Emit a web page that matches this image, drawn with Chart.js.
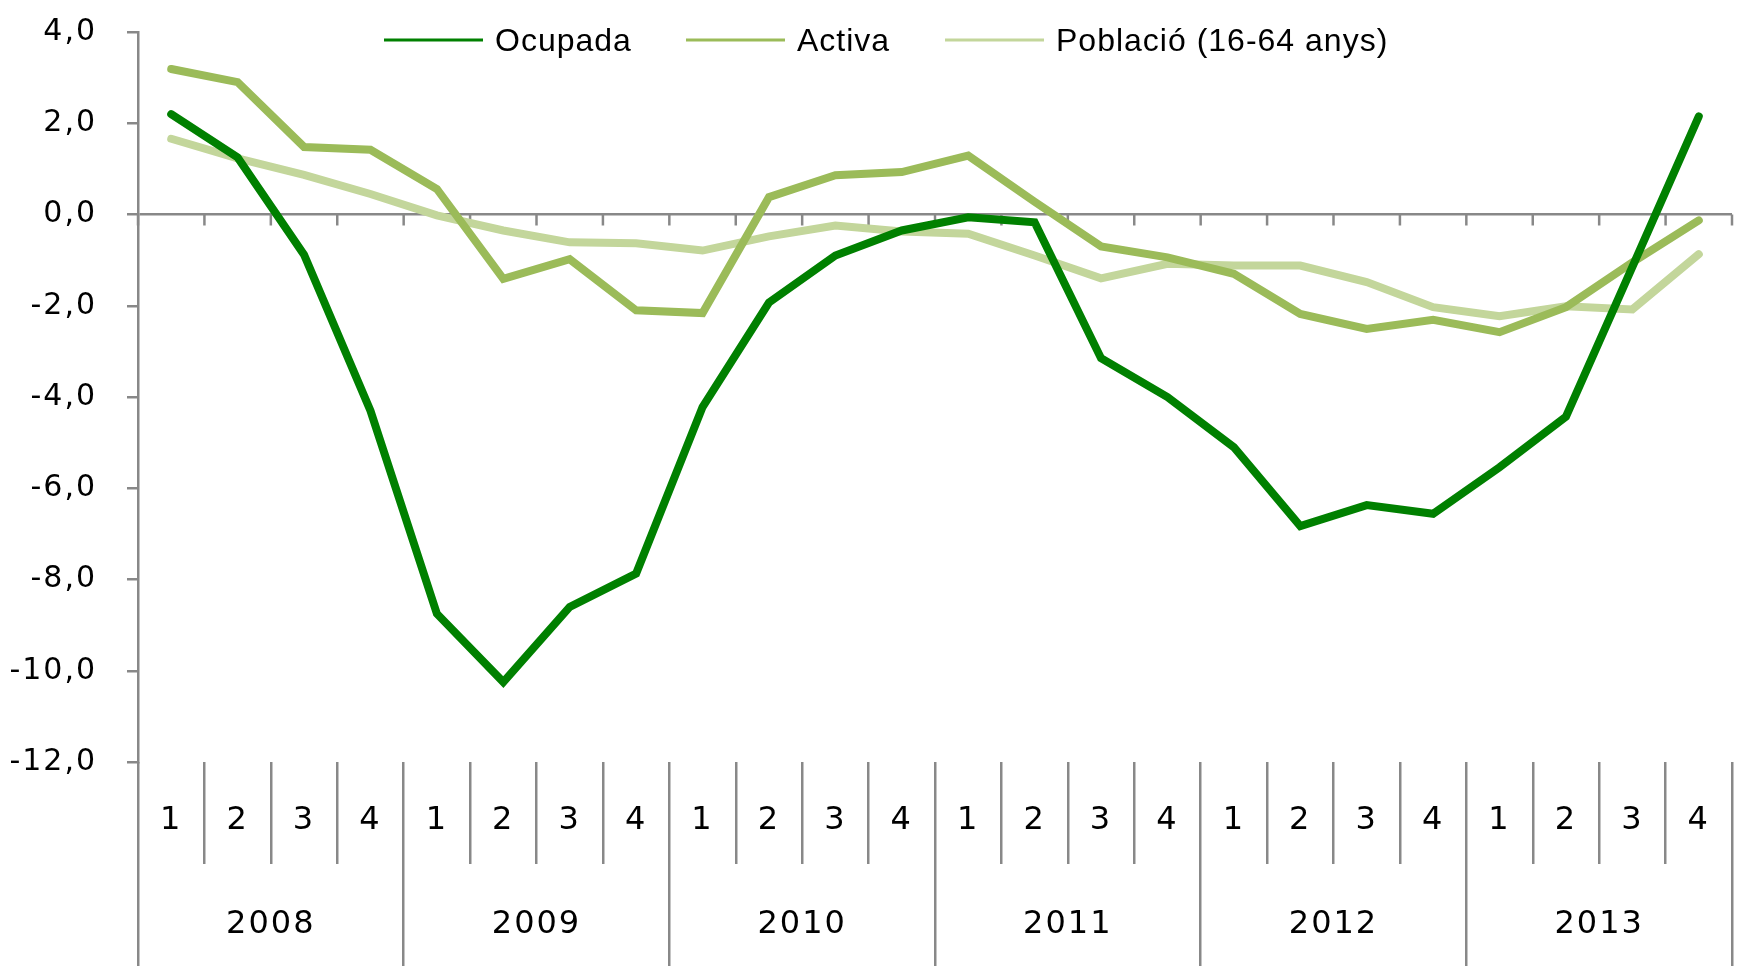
<!DOCTYPE html>
<html>
<head>
<meta charset="utf-8">
<script src="https://cdn.jsdelivr.net/npm/chart.js@4.4.1/dist/chart.umd.min.js"></script>
<style>
  html, body { margin: 0; padding: 0; background: #fff; }
</style>
</head>
<body>
<canvas id="myChart" width="1748" height="966"></canvas>
<script>
const myChart = document.querySelector("#myChart");

// categories
let quarters = ["1", "2", "3", "4", "1", "2", "3", "4", "1", "2", "3", "4",
  "1", "2", "3", "4", "1", "2", "3", "4", "1", "2", "3", "4"];
let years = ["2008", "2009", "2010", "2011", "2012", "2013"];

// series values (%)
let ocupada = [2.2, 1.25, -0.88, -4.3, -8.75, -10.25, -8.6, -7.87, -4.22, -1.93, -0.9, -0.35,
  -0.06, -0.17, -3.15, -4.0, -5.1, -6.83, -6.37, -6.56, -5.54, -4.43, -1.15, 2.15];
let activa = [3.19, 2.9, 1.48, 1.42, 0.56, -1.41, -0.98, -2.1, -2.16, 0.38, 0.86, 0.93,
  1.29, 0.28, -0.7, -0.94, -1.3, -2.18, -2.51, -2.31, -2.58, -2.03, -1.05, -0.13];
let poblacio = [1.66, 1.23, 0.87, 0.45, -0.02, -0.35, -0.61, -0.63, -0.79, -0.48, -0.24, -0.37,
  -0.42, -0.9, -1.4, -1.08, -1.12, -1.12, -1.48, -2.03, -2.23, -2.01, -2.08, -0.87];

// y axis
let yMin = -12;
let yMax = 4;
let yStep = 2;

const gray = "#888888";
const tickFont = { family: "DejaVu Sans", size: 30 };
const catFont = { family: "DejaVu Sans", size: 32 };

// small tick marks hanging under the zero line
const zeroTicks = {
  id: "zeroTicks",
  beforeDatasetsDraw(chart) {
    const { ctx, scales } = chart;
    const y0 = scales.y.getPixelForValue(0);
    ctx.save();
    ctx.strokeStyle = gray;
    ctx.lineWidth = 2.5;
    for (let i = 0; i <= quarters.length; i++) {
      const px = scales.x.getPixelForValue(i - 0.5);
      ctx.beginPath();
      ctx.moveTo(px, y0);
      ctx.lineTo(px, y0 + 11);
      ctx.stroke();
    }
    ctx.restore();
  },
};

// letter spacing for axis text, and the legend drawn inside the plot
const legendInside = {
  id: "legendInside",
  beforeDraw(chart) {
    chart.ctx.letterSpacing = "2px";
  },
  afterDraw(chart, args, opts) {
    const ctx = chart.ctx;
    ctx.save();
    ctx.letterSpacing = "1px";
    ctx.font = "32px 'Liberation Sans'";
    ctx.textBaseline = "middle";
    ctx.fillStyle = "#000";
    chart.data.datasets.forEach((ds, i) => {
      const x = opts.xs[i];
      ctx.strokeStyle = ds.borderColor;
      ctx.lineWidth = 3;
      ctx.beginPath();
      ctx.moveTo(x, opts.y);
      ctx.lineTo(x + 99, opts.y);
      ctx.stroke();
      ctx.fillText(ds.label, x + 111, opts.y + 2);
    });
    ctx.restore();
    ctx.letterSpacing = "0px";
  },
};

let chart = new Chart(myChart, {
  type: "line",
  data: {
    labels: quarters,
    datasets: [
      {
        label: "Ocupada",
        data: ocupada,
        borderColor: "#008000",
        borderWidth: 8,
        pointRadius: 0,
        borderCapStyle: "round",
        tension: 0,
      },
      {
        label: "Activa",
        data: activa,
        borderColor: "#9BBB59",
        borderWidth: 8,
        pointRadius: 0,
        borderCapStyle: "round",
        tension: 0,
      },
      {
        label: "Població (16-64 anys)",
        data: poblacio,
        borderColor: "#C3D69B",
        borderWidth: 8,
        pointRadius: 0,
        borderCapStyle: "round",
        tension: 0,
      },
    ],
  },
  options: {
    responsive: false,
    animation: false,
    layout: { padding: { top: 32, right: 16, left: 0, bottom: 0 } },
    plugins: {
      legend: { display: false },
      tooltip: { enabled: false },
      legendInside: { xs: [384, 686, 945], y: 40 },
    },
    scales: {
      x: {
        type: "category",
        offset: true,
        weight: 1,
        afterFit: (s) => { s.height = 102; },
        border: { display: false },
        grid: { offset: true, drawOnChartArea: false, tickLength: 102, color: gray, lineWidth: 2.5 },
        ticks: { autoSkip: false, maxRotation: 0, padding: -63, color: "#000", font: catFont },
      },
      x2: {
        type: "category",
        labels: years,
        position: "bottom",
        offset: true,
        weight: 2,
        afterFit: (s) => { s.height = 102; },
        border: { display: false },
        grid: { offset: true, drawOnChartArea: false, tickLength: 102, color: gray, lineWidth: 2.5 },
        ticks: { autoSkip: false, maxRotation: 0, padding: -61, color: "#000", font: catFont },
      },
      y: {
        min: yMin,
        max: yMax,
        afterFit: (s) => {
          s.width = 138;
          s.paddingTop = 0;
          s.paddingBottom = 0;
        },
        border: { color: gray, width: 2.5 },
        grid: {
          color: (c) => (c.tick && c.tick.value === 0 ? gray : "transparent"),
          tickColor: gray,
          tickLength: 11,
          lineWidth: 2.5,
        },
        ticks: {
          stepSize: yStep,
          padding: 30,
          color: "#000",
          font: tickFont,
          callback: (v) => v.toFixed(1).replace(".", ","),
        },
      },
    },
  },
  plugins: [zeroTicks, legendInside],
});
</script>
</body>
</html>
